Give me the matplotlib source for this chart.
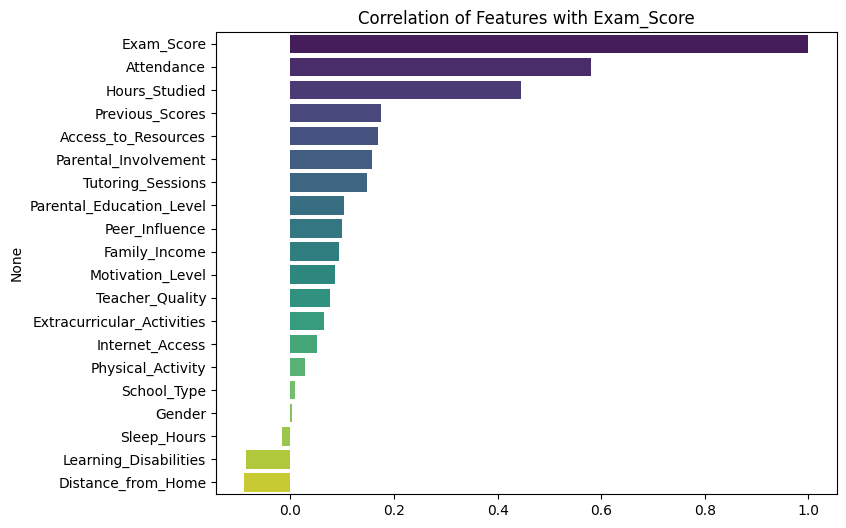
import matplotlib
matplotlib.use("Agg")
import matplotlib.pyplot as plt
import seaborn as sns

features = ["Exam_Score", "Attendance", "Hours_Studied", "Previous_Scores",
            "Access_to_Resources", "Parental_Involvement", "Tutoring_Sessions",
            "Parental_Education_Level", "Peer_Influence", "Family_Income",
            "Motivation_Level", "Teacher_Quality", "Extracurricular_Activities",
            "Internet_Access", "Physical_Activity", "School_Type", "Gender",
            "Sleep_Hours", "Learning_Disabilities", "Distance_from_Home"]
correlations = [1.0, 0.580, 0.445, 0.175, 0.169, 0.158, 0.148, 0.104, 0.100,
                0.094, 0.086, 0.077, 0.065, 0.052, 0.028, 0.009, 0.003,
                -0.017, -0.085, -0.089]

fig = plt.figure(figsize=(8.46, 5.28), dpi=100)
ax = fig.add_axes([0.2553, 0.0644, 0.7337, 0.8744])
sns.barplot(x=correlations, y=features, hue=features, palette="viridis",
            legend=False, ax=ax)
ax.set_title("Correlation of Features with Exam_Score")
ax.set_ylabel("None")
ax.set_xlabel("")
fig.savefig("out.png", dpi=100)
